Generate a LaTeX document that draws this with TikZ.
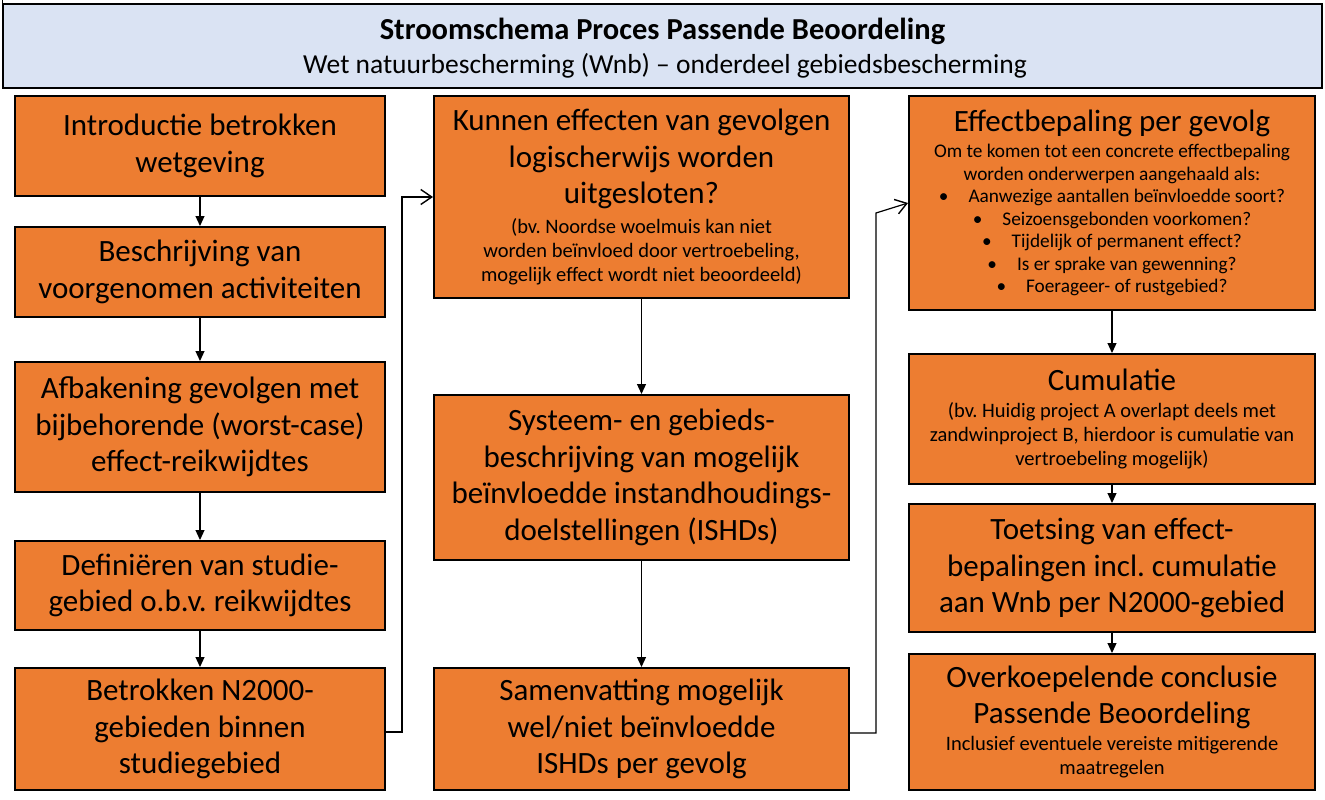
\documentclass[tikz,border=0pt]{standalone}
\usepackage{fontspec}
\setmainfont{Carlito}
\usetikzlibrary{arrows.meta}
\frenchspacing
\definecolor{boxor}{HTML}{ED7D31}
\definecolor{headbl}{HTML}{DAE3F3}
\newcommand{\bigtxt}{\fontsize{31}{36.5}\selectfont}
\newcommand{\smalltxt}{\fontsize{20.5}{24}\selectfont}
\newcommand{\smallish}{\fontsize{19.3}{22.5}\selectfont}
\tikzset{
  stepbox/.style={draw=black, line width=2pt, fill=boxor, align=flush center, inner sep=0pt, anchor=center, font=\bigtxt},
  c1/.style={stepbox, minimum width=370pt, text width=362pt},
  c2/.style={stepbox, minimum width=415pt, text width=407pt},
  c3/.style={stepbox, minimum width=406pt, text width=400pt},
  down/.style={line width=1.2pt, -{Triangle[width=9pt,length=10pt]}},
  over/.style={line width=1.2pt, -{Straight Barb[length=11pt,width=15pt,line width=1.4pt]}},
}
\begin{document}
\begin{tikzpicture}[x=1pt,y=-1pt]
\useasboundingbox (0,0) rectangle (1325,800);
\fill[white] (0,0) rectangle (1325,800);
% header
\node[draw=black, line width=1.5pt, fill=headbl, minimum width=1319pt, minimum height=84pt, inner sep=0pt] (head) at (662.5,46) {};
\node (title) at (662.5,31) {\fontsize{30.5}{34}\selectfont\bfseries Stroomschema Proces Passende Beoordeling};
\node (sub) at (665,66) {\fontsize{27.5}{30}\selectfont Wet natuurbescherming (Wnb) -- onderdeel gebiedsbescherming};
\draw[line width=1.5pt] (head.south west) -- ++(0,-712) coordinate (frameend);
% column 1
\node[c1, minimum height=100pt] (b1) at (200,146) {Introductie betrokken\\wetgeving};
\node[c1, minimum height=90pt] (b2) at (200,272) {Beschrijving van\\voorgenomen activiteiten};
\node[c1, minimum height=130pt] (b3) at (200,427) {Afbakening gevolgen met\\bijbehorende (worst-case)\\effect-reikwijdtes};
\node[c1, minimum height=89pt] (b4) at (200,585.5) {Definiëren van studie-\\gebied o.b.v. reikwijdtes};
\node[c1, minimum height=122pt] (b5) at (200,729) {Betrokken N2000-\\gebieden binnen\\studiegebied};
% column 2
\node[c2, minimum height=202pt] (b6) at (641.5,197) {Kunnen effecten van gevolgen\\logischerwijs worden\\uitgesloten?\par\vspace{6pt}\smalltxt (bv. Noordse woelmuis kan niet\\worden beïnvloed door vertroebeling,\\mogelijk effect wordt niet beoordeeld)\par};
\node[c2, minimum height=165pt] (b7) at (641.5,477.5) {Systeem- en gebieds-\\beschrijving van mogelijk\\beïnvloedde instandhoudings-\\doelstellingen (ISHDs)};
\node[c2, minimum height=122pt] (b8) at (641.5,729) {Samenvatting mogelijk\\wel/niet beïnvloedde\\ISHDs per gevolg};
% column 3
\node[c3, minimum height=214pt] (b9) at (1112,203) {Effectbepaling per gevolg\par\vspace{4pt}\smallish Om te komen tot een concrete effectbepaling\\worden onderwerpen aangehaald als:\\•\hspace{20pt}Aanwezige aantallen beïnvloedde soort?\\•\hspace{20pt}Seizoensgebonden voorkomen?\\•\hspace{20pt}Tijdelijk of permanent effect?\\•\hspace{20pt}Is er sprake van gewenning?\\•\hspace{20pt}Foerageer- of rustgebied?\par};
\node[c3, minimum height=130pt] (b10) at (1112,419) {Cumulatie\par\vspace{3pt}\smalltxt (bv. Huidig project A overlapt deels met\\zandwinproject B, hierdoor is cumulatie van\\vertroebeling mogelijk)\par};
\node[c3, minimum height=128pt] (b11) at (1112,568) {Toetsing van effect-\\bepalingen incl. cumulatie\\aan Wnb per N2000-gebied};
\node[c3, minimum height=136pt] (b12) at (1112,722) {Overkoepelende conclusie\\Passende Beoordeling\par\vspace{3pt}\smalltxt Inclusief eventuele vereiste mitigerende\\maatregelen\par};
% vertical arrows
\draw[down] (b1) -- (b2);
\draw[down] (b2) -- (b3);
\draw[down] (b3) -- (b4);
\draw[down] (b4) -- (b5);
\draw[down] (b6) -- (b7);
\draw[down] (b7) -- (b8);
\draw[down] (b9) -- (b10);
\draw[down] (b10) -- (b11);
\draw[down] (b11) -- (b12);
% column transfers
\coordinate (k1) at (402,732);
\draw[over] ([yshift=-3pt]b5.east) -- (k1) |- (b6.west);
\coordinate (k2a) at (876,733);
\coordinate (k2) at (876,213);
\draw[over] ([yshift=-4pt]b8.east) -- (k2a) -- (k2) -- (b9.west);
\end{tikzpicture}
\end{document}
